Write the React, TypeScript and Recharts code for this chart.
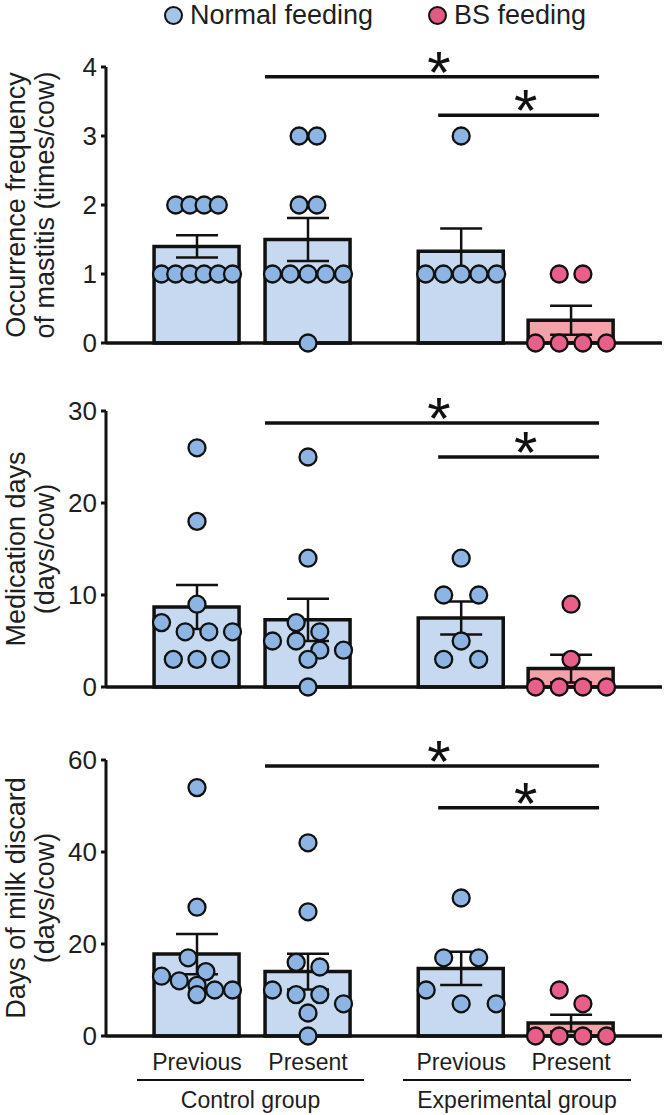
import React from "react";
import {
  ComposedChart,
  Bar,
  Cell,
  Scatter,
  ErrorBar,
  XAxis,
  YAxis,
  ReferenceLine,
  ReferenceDot,
} from "recharts";

// ---------- data ----------
const categories = ["Previous", "Present", "Previous", "Present"];
const groups = ["Control group", "Experimental group"];
const legendNames = ["Normal feeding", "BS feeding"];
const isBS = [false, false, false, true];

// occurrence frequency of mastitis (times/cow)
const mastitisPoints = [
  [2, 2, 2, 2, 1, 1, 1, 1, 1, 1],
  [3, 3, 2, 2, 1, 1, 1, 1, 1, 0],
  [3, 1, 1, 1, 1, 1],
  [1, 1, 0, 0, 0, 0],
];
const mastitisMean = [1.4, 1.5, 1.33, 0.33];
const mastitisSem = [0.16, 0.31, 0.33, 0.21];
const mastitisTicks = [0, 1, 2, 3, 4];
const mastitisBrackets = [3.86, 3.3];

// medication days (days/cow)
const medicationPoints = [
  [26, 18, 9, 7, 6, 6, 6, 3, 3, 3],
  [25, 14, 7, 6, 5, 5, 4, 4, 3, 0],
  [14, 10, 10, 5, 3, 3],
  [9, 3, 0, 0, 0, 0],
];
const medicationMean = [8.7, 7.3, 7.5, 2.0];
const medicationSem = [2.4, 2.3, 1.8, 1.5];
const medicationTicks = [0, 10, 20, 30];
const medicationBrackets = [28.7, 25];

// days of milk discard (days/cow)
const discardPoints = [
  [54, 28, 17, 14, 13, 12, 11, 10, 10, 9],
  [42, 27, 16, 15, 10, 9, 9, 7, 5, 0],
  [30, 17, 17, 10, 7, 7],
  [10, 7, 0, 0, 0, 0],
];
const discardMean = [17.8, 14.0, 14.7, 2.8];
const discardSem = [4.4, 3.9, 3.6, 1.8];
const discardTicks = [0, 20, 40, 60];
const discardBrackets = [58.7, 49.6];

// comparisons: [from slot, to slot]
const comparisons = [
  [1, 3],
  [2, 3],
];

const panels = [
  { title: ["Occurrence frequency", "of mastitis (times/cow)"], points: mastitisPoints, mean: mastitisMean, sem: mastitisSem, ticks: mastitisTicks, brackets: mastitisBrackets },
  { title: ["Medication days", "(days/cow)"], points: medicationPoints, mean: medicationMean, sem: medicationSem, ticks: medicationTicks, brackets: medicationBrackets },
  { title: ["Days of milk discard", "(days/cow)"], points: discardPoints, mean: discardMean, sem: discardSem, ticks: discardTicks, brackets: discardBrackets },
];

// ---------- layout ----------
const W = 665;
const PLOT_LEFT = 106;
const PLOT_RIGHT = 662;
const PLOT_H = 276;
const PANEL_TOPS = [67, 411, 760];
const UNIT = 111; // px per x unit
const FIRST_PX = 197;
const SLOT_X = [1, 2, 3.38, 4.37];
const X_DOMAIN = [1 - (FIRST_PX - PLOT_LEFT) / UNIT, 1 + (PLOT_RIGHT - FIRST_PX) / UNIT];
const MT = 40;
const MB = 20;
const BRACKET_START_PX = [-43, -23];
const BRACKET_END_PX = 28;

const FONT = "'Liberation Sans', Arial, sans-serif";
const INK = "#111";
const TEXT = "#1e1e1e";
const BAR_BLUE = "#c6d9f0";
const BAR_PINK = "#f4a2a9";
const DOT_BLUE = "#8db4e2";
const DOT_PINK = "#e8608a";
const R = 8.5;

// column scatter: points with close values share a row, spread symmetrically
function swarm(values: number[], max: number) {
  const py = values.map((v) => (v / max) * PLOT_H);
  const order = values.map((_, i) => i).sort((a, b) => values[b] - values[a]);
  const bins: number[][] = [];
  let i = 0;
  while (i < order.length) {
    const bin = [order[i]];
    let j = i + 1;
    while (j < order.length && py[order[i]] - py[order[j]] <= 15) {
      bin.push(order[j]);
      j++;
    }
    bins.push(bin);
    i = j;
  }
  const maxBin = Math.max(...bins.map((b) => b.length));
  const step = maxBin > 1 ? Math.min(35, 71 / (maxBin - 1)) : 0;
  const dx = new Array(values.length).fill(0);
  const placed: [number, number][] = [];
  bins.forEach((bin) => {
    const n = bin.length;
    const slots = Array.from({ length: n }, (_, k) => (k - (n - 1) / 2) * step);
    const centerFirst = [...slots].sort((a, b) => Math.abs(a) - Math.abs(b) || a - b);
    let best = slots;
    let bestD = -1;
    [slots, centerFirst].forEach((cand) => {
      let d = Infinity;
      bin.forEach((idx, k) => {
        placed.forEach(([px, pyy]) => {
          d = Math.min(d, Math.hypot(cand[k] - px, py[idx] - pyy));
        });
      });
      if (d > bestD + 0.01) {
        bestD = d;
        best = cand;
      }
    });
    bin.forEach((idx, k) => {
      dx[idx] = best[k];
      placed.push([best[k], py[idx]]);
    });
  });
  return dx;
}

const Dot = (props: any) => {
  const { cx, cy, payload } = props;
  if (cx == null || cy == null) return null;
  return (
    <circle
      cx={cx + payload.dx}
      cy={cy}
      r={R}
      fill={payload.bs ? DOT_PINK : DOT_BLUE}
      stroke={INK}
      strokeWidth={2.3}
    />
  );
};

const Star = (props: any) => {
  const { cx, cy } = props;
  if (cx == null || cy == null) return null;
  return (
    <text x={cx} y={cy + 16} textAnchor="middle" fontSize={60} fontFamily={FONT} fill={INK}>
      *
    </text>
  );
};

function Panel({ idx }: { idx: number }) {
  const p = panels[idx];
  const isLast = idx === 2;
  const max = p.ticks[p.ticks.length - 1];
  const xh = isLast ? 50 : 1;
  const height = MT + PLOT_H + xh + MB;

  const barData = SLOT_X.map((x, i) => ({ x, mean: p.mean[i], sem: p.sem[i], bs: isBS[i] }));
  const pointData = p.points.flatMap((vals, i) => {
    const dx = swarm(vals, max);
    return vals.map((v, k) => ({ x: SLOT_X[i], v, dx: dx[k], bs: isBS[i] }));
  });

  return (
    <div style={{ position: "absolute", left: 0, top: PANEL_TOPS[idx] - MT }}>
      <ComposedChart
        width={W}
        height={height}
        data={barData}
        margin={{ top: MT, right: W - PLOT_RIGHT, bottom: MB, left: 0 }}
      >
        <XAxis
          type="number"
          dataKey="x"
          domain={X_DOMAIN}
          height={xh}
          axisLine={{ stroke: INK, strokeWidth: 3.5 }}
          tickLine={false}
          ticks={isLast ? SLOT_X : []}
          interval={0}
          tick={isLast ? { fontSize: 23, fill: TEXT, fontFamily: FONT } : false}
          tickSize={0}
          tickMargin={18}
          tickFormatter={(v: number) => categories[SLOT_X.indexOf(v)] ?? ""}
        />
        <YAxis
          type="number"
          domain={[0, max]}
          ticks={p.ticks}
          interval={0}
          width={PLOT_LEFT}
          axisLine={{ stroke: INK, strokeWidth: 3 }}
          tickLine={{ stroke: INK, strokeWidth: 3 }}
          tickSize={5}
          tickMargin={4}
          tick={{ fontSize: 26, fill: TEXT, fontFamily: FONT }}
        />
        <Bar dataKey="mean" barSize={85} stroke={INK} strokeWidth={3.5} isAnimationActive={false}>
          {barData.map((d, i) => (
            <Cell key={`c-${i}`} fill={d.bs ? BAR_PINK : BAR_BLUE} />
          ))}
        </Bar>
        <Scatter data={pointData} dataKey="v" shape={Dot} isAnimationActive={false} />
        <Scatter data={barData} dataKey="mean" shape={() => <g />} isAnimationActive={false}>
          <ErrorBar dataKey="sem" direction="y" width={21} stroke={INK} strokeWidth={2.5} />
        </Scatter>
        {comparisons.map(([from, to], k) => {
          const x1 = SLOT_X[from] + BRACKET_START_PX[k] / UNIT;
          const x2 = SLOT_X[to] + BRACKET_END_PX / UNIT;
          const y = p.brackets[k];
          return (
            <ReferenceLine
              key={`l-${k}`}
              segment={[
                { x: x1, y },
                { x: x2, y },
              ]}
              stroke={INK}
              strokeWidth={3.5}
            />
          );
        })}
        {comparisons.map(([from, to], k) => {
          const x1 = SLOT_X[from] + BRACKET_START_PX[k] / UNIT;
          const x2 = SLOT_X[to] + BRACKET_END_PX / UNIT;
          return (
            <ReferenceDot
              key={`s-${k}`}
              x={(x1 + x2) / 2 + 7 / UNIT}
              y={p.brackets[k]}
              r={1}
              shape={Star}
            />
          );
        })}
      </ComposedChart>
    </div>
  );
}

function AxisTitle({ idx }: { idx: number }) {
  const cy = PANEL_TOPS[idx] + PLOT_H / 2;
  const cx = 31;
  const w = 380;
  return (
    <div
      style={{
        position: "absolute",
        left: cx - w / 2,
        top: cy - 29,
        width: w,
        height: 58,
        transform: "rotate(-90deg)",
        textAlign: "center",
        fontFamily: FONT,
        fontSize: 27,
        lineHeight: "29px",
        color: TEXT,
        whiteSpace: "nowrap",
      }}
    >
      {panels[idx].title[0]}
      <br />
      {panels[idx].title[1]}
    </div>
  );
}

function LegendItem({ x, color, label }: { x: number; color: string; label: string }) {
  return (
    <>
      <div
        style={{
          position: "absolute",
          left: x - 10,
          top: 6,
          width: 15,
          height: 15,
          borderRadius: "50%",
          background: color,
          border: `2.5px solid ${INK}`,
        }}
      />
      <div
        style={{
          position: "absolute",
          left: x + 16,
          top: -1,
          fontFamily: FONT,
          fontSize: 27,
          lineHeight: "32px",
          color: TEXT,
          whiteSpace: "nowrap",
        }}
      >
        {label}
      </div>
    </>
  );
}

const GROUP_SPANS = [
  [137, 364],
  [403, 631],
];

export default function App() {
  return (
    <div style={{ position: "absolute", left: 0, top: 0, width: W, height: 1115, background: "#fff", overflow: "hidden" }}>
      <LegendItem x={174} color="#a6c3e8" label={legendNames[0]} />
      <LegendItem x={438} color="#e05a82" label={legendNames[1]} />
      {panels.map((_, i) => (
        <Panel key={`p-${i}`} idx={i} />
      ))}
      {panels.map((_, i) => (
        <AxisTitle key={`t-${i}`} idx={i} />
      ))}
      {groups.map((g, i) => {
        const [a, b] = GROUP_SPANS[i];
        return (
          <React.Fragment key={`g-${i}`}>
            <div style={{ position: "absolute", left: a, top: 1079, width: b - a, height: 2, background: INK }} />
            <div
              style={{
                position: "absolute",
                left: a - 20,
                width: b - a + 40,
                top: 1086,
                textAlign: "center",
                fontFamily: FONT,
                fontSize: 23,
                lineHeight: "28px",
                color: TEXT,
              }}
            >
              {g}
            </div>
          </React.Fragment>
        );
      })}
    </div>
  );
}
